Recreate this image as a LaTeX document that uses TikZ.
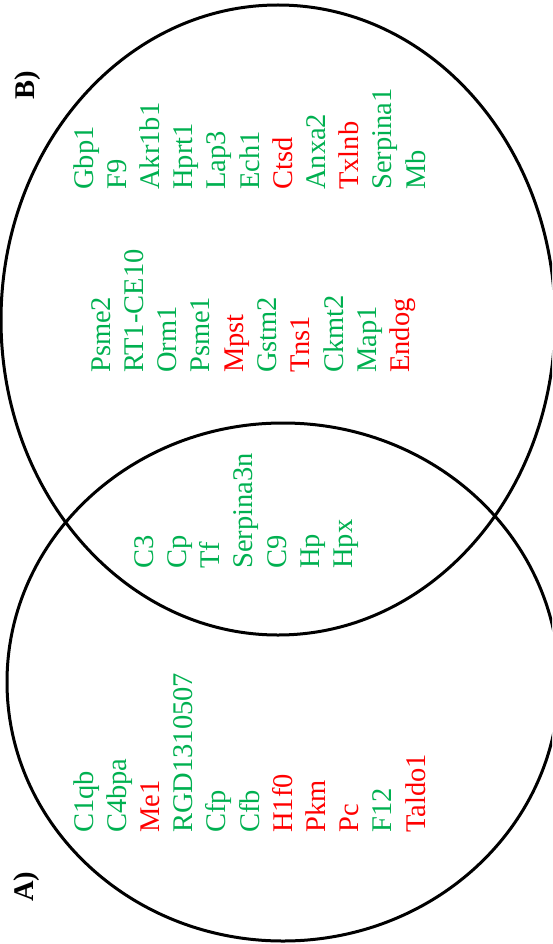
\documentclass[tikz,border=0pt]{standalone}
\usepackage{fontspec}
\setmainfont{Liberation Serif}
\usepackage{xcolor}
\usepackage{tikz}
\definecolor{upgreen}{RGB}{0,176,80}
\definecolor{downred}{RGB}{255,0,0}

\begin{document}
\begin{tikzpicture}[
    x=1pt, y=-1pt,
    font=\fontsize{28.5}{34}\selectfont,
    gene/.style={rotate=90, anchor=base west, inner sep=0pt},
    setlabel/.style={gene, font=\fontsize{28.5}{34}\selectfont\bfseries},
    ring/.style={draw, line width=3pt}
]
\useasboundingbox (0,0) rectangle (552,944);
\clip (0,0) rectangle (552,944);

% Sets
\draw[ring] (278,320) ellipse [x radius=277, y radius=315];
\draw[ring] (283,682) ellipse [x radius=276, y radius=259];

% Set labels
\node[setlabel] (labA) at (33,902) {A)};
\node[setlabel] (labB) at (34,100) {B)};

% Only in A
\foreach \g/\c [count=\i from 0] in {C1qb/upgreen, C4bpa/upgreen, Me1/downred,
    RGD1310507/upgreen, Cfp/upgreen, Cfb/upgreen, H1f0/downred, Pkm/downred,
    Pc/downred, F12/upgreen, Taldo1/downred}
  \node[gene, text=\c] (a\i) at ({93+33.2*\i},833) {\g};

% Shared by A and B
\foreach \g/\c [count=\i from 0] in {C3/upgreen, Cp/upgreen, Tf/upgreen,
    Serpina3n/upgreen, C9/upgreen, Hp/upgreen, Hpx/upgreen}
  \node[gene, text=\c] (ab\i) at ({153+33.3*\i},569) {\g};

% Only in B, first column
\foreach \g/\c [count=\i from 0] in {Gbp1/upgreen, F9/upgreen, Akr1b1/upgreen,
    Hprt1/upgreen, Lap3/upgreen, Ech1/upgreen, Ctsd/downred, Anxa2/upgreen,
    Txlnb/downred, Serpina1/upgreen, Mb/upgreen}
  \node[gene, text=\c] (b\i) at ({93+33.2*\i},190) {\g};

% Only in B, second column
\foreach \g/\c [count=\i from 0] in {Psme2/upgreen, RT1-CE10/upgreen, Orm1/upgreen,
    Psme1/upgreen, Mpst/downred, Gstm2/upgreen, Tns1/downred, Ckmt2/upgreen,
    Map1/upgreen, Endog/downred}
  \node[gene, text=\c] (bb\i) at ({110+33.3*\i},373) {\g};
\end{tikzpicture}
\end{document}
